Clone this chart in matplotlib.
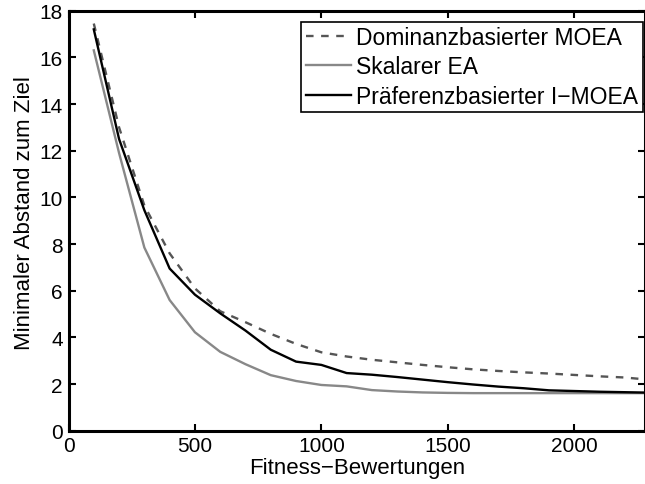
import matplotlib
matplotlib.use("Agg")
import matplotlib.pyplot as plt

plt.rcParams['font.family'] = ['Liberation Sans', 'DejaVu Sans']

evals = [100, 200, 300, 400, 500, 600, 700, 800, 900, 1000, 1100, 1200,
         1300, 1400, 1500, 1600, 1700, 1800, 1900, 2000, 2100, 2200, 2300]
dominanz = [17.45, 13.0, 9.65, 7.6, 6.1, 5.12, 4.65, 4.15, 3.72, 3.36, 3.18, 3.04,
            2.93, 2.82, 2.72, 2.63, 2.56, 2.5, 2.45, 2.39, 2.33, 2.28, 2.18]
skalar = [16.3, 11.9, 7.85, 5.6, 4.22, 3.38, 2.85, 2.38, 2.13, 1.96, 1.9, 1.74,
          1.68, 1.64, 1.62, 1.61, 1.61, 1.61, 1.61, 1.61, 1.61, 1.61, 1.61]
praeferenz = [17.2, 12.5, 9.45, 6.95, 5.83, 5.03, 4.29, 3.47, 2.96, 2.82, 2.47, 2.40,
              2.30, 2.19, 2.08, 1.98, 1.89, 1.82, 1.73, 1.70, 1.67, 1.65, 1.63]

labels = ["Dominanzbasierter MOEA", "Skalarer EA", "Präferenzbasierter I\u2212MOEA"]
xticks = [0, 500, 1000, 1500, 2000]
yticks = [0, 2, 4, 6, 8, 10, 12, 14, 16, 18]

fig = plt.figure(figsize=(6.45, 4.85), dpi=100)
ax = fig.add_axes([68.5 / 645, 1 - 431.7 / 485, (645 - 68.5) / 645, (431.7 - 11.7) / 485])

ax.plot(evals, dominanz, color='#555555', lw=1.7, ls=(0, (3.2, 3.2)), label=labels[0])
ax.plot(evals, skalar, color='#888888', lw=1.7, label=labels[1])
ax.plot(evals, praeferenz, color='black', lw=1.7, label=labels[2])

ax.set_xlim(0, 2280)
ax.set_ylim(0, 18)
ax.set_xticks(xticks)
ax.set_yticks(yticks)
ax.tick_params(direction='in', length=5, width=1.5, labelsize=15,
               top=True, right=True, pad=4)
for s in ax.spines.values():
    s.set_linewidth(2.2)

ax.set_xlabel("Fitness\u2212Bewertungen", fontsize=16, labelpad=1)
ax.set_ylabel("Minimaler Abstand zum Ziel", fontsize=16)
ax.yaxis.set_label_coords(-0.058, 0.52)

leg = ax.legend(loc='upper right', bbox_to_anchor=(0.9965, 0.974), borderaxespad=0,
                fontsize=16.5, frameon=True, fancybox=False, framealpha=1,
                edgecolor='black', handlelength=2.0, handletextpad=0.22,
                labelspacing=0.27, borderpad=0.2)
leg.get_frame().set_linewidth(1.2)

fig.savefig("out.png", dpi=100)
